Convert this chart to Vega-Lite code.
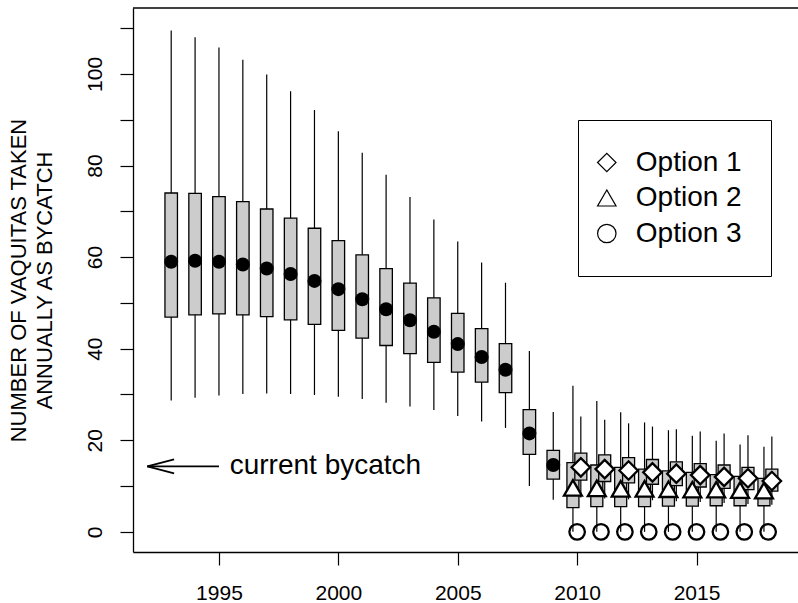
{
  "$schema": "https://vega.github.io/schema/vega-lite/v6.json",
  "width": 665,
  "height": 544,
  "autosize": {"type": "none"},
  "padding": {"left": 133, "top": 8, "right": 0, "bottom": 51},
  "background": "white",
  "config": {
    "view": {"stroke": null},
    "font": "Liberation Sans",
    "axis": {"labelFont": "Liberation Sans", "titleFont": "Liberation Sans", "labelColor": "black", "titleColor": "black", "tickColor": "black", "domainColor": "black", "grid": false, "labelFontSize": 21, "titleFontSize": 22, "titleFontWeight": "normal"},
    "legend": {"strokeColor": "black", "fillColor": "white", "padding": 28.5, "labelFontSize": 28, "labelFont": "Liberation Sans", "labelColor": "black", "symbolSize": 340, "symbolOffset": -13.7, "labelOffset": 15, "rowPadding": 7.5, "symbolStrokeWidth": 1.2}
  },
  "data": {"values": [{"top": 114.4}]},
  "datasets": {
    "stats": [
      {"year": 1993, "grp": "hist", "lo": 28.7, "q1": 46.9, "med": 59.0, "q3": 74.0, "hi": 109.5},
      {"year": 1994, "grp": "hist", "lo": 29.3, "q1": 47.4, "med": 59.2, "q3": 73.9, "hi": 108.0},
      {"year": 1995, "grp": "hist", "lo": 29.8, "q1": 47.6, "med": 59.0, "q3": 73.2, "hi": 105.8},
      {"year": 1996, "grp": "hist", "lo": 30.1, "q1": 47.4, "med": 58.4, "q3": 72.1, "hi": 103.1},
      {"year": 1997, "grp": "hist", "lo": 30.2, "q1": 47.0, "med": 57.5, "q3": 70.5, "hi": 99.9},
      {"year": 1998, "grp": "hist", "lo": 30.1, "q1": 46.3, "med": 56.3, "q3": 68.5, "hi": 96.2},
      {"year": 1999, "grp": "hist", "lo": 29.9, "q1": 45.3, "med": 54.8, "q3": 66.3, "hi": 92.1},
      {"year": 2000, "grp": "hist", "lo": 29.5, "q1": 44.0, "med": 53.0, "q3": 63.6, "hi": 87.5},
      {"year": 2001, "grp": "hist", "lo": 29.0, "q1": 42.3, "med": 50.8, "q3": 60.5, "hi": 82.8},
      {"year": 2002, "grp": "hist", "lo": 28.2, "q1": 40.7, "med": 48.6, "q3": 57.5, "hi": 78.0},
      {"year": 2003, "grp": "hist", "lo": 27.4, "q1": 38.9, "med": 46.2, "q3": 54.3, "hi": 73.1},
      {"year": 2004, "grp": "hist", "lo": 26.6, "q1": 37.0, "med": 43.7, "q3": 51.1, "hi": 68.2},
      {"year": 2005, "grp": "hist", "lo": 25.3, "q1": 34.9, "med": 41.0, "q3": 47.7, "hi": 63.4},
      {"year": 2006, "grp": "hist", "lo": 24.1, "q1": 32.7, "med": 38.2, "q3": 44.4, "hi": 58.8},
      {"year": 2007, "grp": "hist", "lo": 22.7, "q1": 30.4, "med": 35.4, "q3": 41.1, "hi": 54.4},
      {"year": 2008, "grp": "hist", "lo": 10.0, "q1": 16.9, "med": 21.5, "q3": 26.7, "hi": 39.5},
      {"year": 2009, "grp": "hist", "lo": 7.0, "q1": 11.5, "med": 14.6, "q3": 17.8, "hi": 26.2},
      {"year": 2010, "grp": "Option 1", "lo": 7.5, "q1": 11.3, "med": 14.1, "q3": 17.2, "hi": 25.2},
      {"year": 2011, "grp": "Option 1", "lo": 7.3, "q1": 11.0, "med": 13.7, "q3": 16.8, "hi": 24.5},
      {"year": 2012, "grp": "Option 1", "lo": 7.1, "q1": 10.7, "med": 13.4, "q3": 16.2, "hi": 23.7},
      {"year": 2013, "grp": "Option 1", "lo": 6.9, "q1": 10.4, "med": 13.0, "q3": 15.8, "hi": 23.0},
      {"year": 2014, "grp": "Option 1", "lo": 6.7, "q1": 10.1, "med": 12.7, "q3": 15.3, "hi": 22.4},
      {"year": 2015, "grp": "Option 1", "lo": 6.5, "q1": 9.8, "med": 12.4, "q3": 14.9, "hi": 21.9},
      {"year": 2016, "grp": "Option 1", "lo": 6.3, "q1": 9.5, "med": 12.0, "q3": 14.6, "hi": 21.5},
      {"year": 2017, "grp": "Option 1", "lo": 6.1, "q1": 9.2, "med": 11.7, "q3": 14.1, "hi": 21.1},
      {"year": 2018, "grp": "Option 1", "lo": 5.9, "q1": 8.9, "med": 11.1, "q3": 13.7, "hi": 20.8},
      {"year": 2010, "grp": "Option 2", "lo": 0, "q1": 5.3, "med": 9.6, "q3": 15.1, "hi": 31.9},
      {"year": 2011, "grp": "Option 2", "lo": 0, "q1": 5.5, "med": 9.5, "q3": 14.6, "hi": 28.6},
      {"year": 2012, "grp": "Option 2", "lo": 0, "q1": 5.5, "med": 9.4, "q3": 14.1, "hi": 26.1},
      {"year": 2013, "grp": "Option 2", "lo": 0, "q1": 5.5, "med": 9.4, "q3": 13.7, "hi": 23.9},
      {"year": 2014, "grp": "Option 2", "lo": 0, "q1": 5.6, "med": 9.3, "q3": 13.3, "hi": 22.2},
      {"year": 2015, "grp": "Option 2", "lo": 0, "q1": 5.6, "med": 9.2, "q3": 13.0, "hi": 21.0},
      {"year": 2016, "grp": "Option 2", "lo": 0, "q1": 5.7, "med": 9.2, "q3": 12.5, "hi": 19.9},
      {"year": 2017, "grp": "Option 2", "lo": 0, "q1": 5.7, "med": 9.1, "q3": 12.1, "hi": 19.1},
      {"year": 2018, "grp": "Option 2", "lo": 0, "q1": 5.7, "med": 9.0, "q3": 11.7, "hi": 18.6},
      {"year": 2010, "grp": "Option 3", "med": 0},
      {"year": 2011, "grp": "Option 3", "med": 0},
      {"year": 2012, "grp": "Option 3", "med": 0},
      {"year": 2013, "grp": "Option 3", "med": 0},
      {"year": 2014, "grp": "Option 3", "med": 0},
      {"year": 2015, "grp": "Option 3", "med": 0},
      {"year": 2016, "grp": "Option 3", "med": 0},
      {"year": 2017, "grp": "Option 3", "med": 0},
      {"year": 2018, "grp": "Option 3", "med": 0}
    ],
    "arrow": [
      {"x": 1992, "x2": 1995, "y": 14.3, "y2": 14.3},
      {"x": 1992, "x2": 1993.12, "y": 14.3, "y2": 15.85},
      {"x": 1992, "x2": 1993.12, "y": 14.3, "y2": 12.75}
    ],
    "note": [{"x": 1995.45, "y": 14.3, "text": "current bycatch"}]
  },
  "layer": [
    {
      "data": {"name": "stats"},
      "transform": [{"filter": "datum.grp == 'hist'"}],
      "mark": {"type": "rule", "color": "black", "strokeWidth": 1.2},
      "encoding": {
        "x": {"field": "year", "type": "quantitative", "title": null, "scale": {"domain": [1991.4, 2019.25], "zero": false, "nice": false, "padding": 0},
          "axis": {"values": [1995, 2000, 2005, 2010, 2015], "format": "d", "title": null, "tickSize": 13, "labelFontSize": 21, "labelPadding": 17, "labelFlush": false, "labelOverlap": false, "domainWidth": 1.3, "tickWidth": 1.2}},
        "y": {"field": "lo", "type": "quantitative", "title": ["NUMBER OF VAQUITAS TAKEN", "ANNUALLY AS BYCATCH"], "scale": {"domain": [-4.4, 114.4], "zero": false, "nice": false, "padding": 0},
          "axis": {"values": [0, 10, 20, 30, 40, 50, 60, 70, 80, 90, 100, 110], "labelExpr": "datum.value % 20 == 0 ? datum.label : ''", "tickSize": 13, "tickWidth": 1.2, "domainWidth": 1.3, "labelAngle": 270, "labelAlign": "center", "labelBaseline": "alphabetic", "labelPadding": 19, "labelFontSize": 21, "labelOverlap": false,
            "titleFontSize": 22, "titleFontWeight": "normal", "titleAngle": 270, "titleAlign": "center", "titleBaseline": "bottom", "titleX": -103, "titleY": 272, "titleLineHeight": 26}},
        "y2": {"field": "hi"}
      }
    },
    {
      "mark": {"type": "rule", "color": "black", "strokeWidth": 1.3},
      "encoding": {
        "y": {"field": "top", "type": "quantitative", "title": ["NUMBER OF VAQUITAS TAKEN", "ANNUALLY AS BYCATCH"], "scale": {"domain": [-4.4, 114.4], "zero": false, "nice": false, "padding": 0}}
      }
    },
    {
      "data": {"name": "stats"},
      "transform": [{"filter": "datum.grp == 'hist'"}],
      "mark": {"type": "bar", "width": 12.5, "fill": "#cccccc", "stroke": "black", "strokeWidth": 1.3},
      "encoding": {
        "x": {"field": "year", "type": "quantitative", "title": null, "scale": {"domain": [1991.4, 2019.25], "zero": false, "nice": false, "padding": 0}},
        "y": {"field": "q1", "type": "quantitative", "title": ["NUMBER OF VAQUITAS TAKEN", "ANNUALLY AS BYCATCH"], "scale": {"domain": [-4.4, 114.4], "zero": false, "nice": false, "padding": 0}},
        "y2": {"field": "q3"}
      }
    },
    {
      "data": {"name": "stats"},
      "transform": [{"filter": "datum.grp == 'Option 2'"}],
      "mark": {"type": "rule", "color": "black", "strokeWidth": 1.2, "xOffset": -4.2},
      "encoding": {
        "x": {"field": "year", "type": "quantitative", "title": null, "scale": {"domain": [1991.4, 2019.25], "zero": false, "nice": false, "padding": 0}},
        "y": {"field": "lo", "type": "quantitative", "title": ["NUMBER OF VAQUITAS TAKEN", "ANNUALLY AS BYCATCH"], "scale": {"domain": [-4.4, 114.4], "zero": false, "nice": false, "padding": 0}},
        "y2": {"field": "hi"}
      }
    },
    {
      "data": {"name": "stats"},
      "transform": [{"filter": "datum.grp == 'Option 2'"}],
      "mark": {"type": "bar", "width": 12, "fill": "#cccccc", "stroke": "black", "strokeWidth": 1.3, "xOffset": -4.2},
      "encoding": {
        "x": {"field": "year", "type": "quantitative", "title": null, "scale": {"domain": [1991.4, 2019.25], "zero": false, "nice": false, "padding": 0}},
        "y": {"field": "q1", "type": "quantitative", "title": ["NUMBER OF VAQUITAS TAKEN", "ANNUALLY AS BYCATCH"], "scale": {"domain": [-4.4, 114.4], "zero": false, "nice": false, "padding": 0}},
        "y2": {"field": "q3"}
      }
    },
    {
      "data": {"name": "stats"},
      "transform": [{"filter": "datum.grp == 'Option 1'"}],
      "mark": {"type": "rule", "color": "black", "strokeWidth": 1.2, "xOffset": 3.7},
      "encoding": {
        "x": {"field": "year", "type": "quantitative", "title": null, "scale": {"domain": [1991.4, 2019.25], "zero": false, "nice": false, "padding": 0}},
        "y": {"field": "lo", "type": "quantitative", "title": ["NUMBER OF VAQUITAS TAKEN", "ANNUALLY AS BYCATCH"], "scale": {"domain": [-4.4, 114.4], "zero": false, "nice": false, "padding": 0}},
        "y2": {"field": "hi"}
      }
    },
    {
      "data": {"name": "stats"},
      "transform": [{"filter": "datum.grp == 'Option 1'"}],
      "mark": {"type": "bar", "width": 12, "fill": "#cccccc", "stroke": "black", "strokeWidth": 1.3, "xOffset": 3.7},
      "encoding": {
        "x": {"field": "year", "type": "quantitative", "title": null, "scale": {"domain": [1991.4, 2019.25], "zero": false, "nice": false, "padding": 0}},
        "y": {"field": "q1", "type": "quantitative", "title": ["NUMBER OF VAQUITAS TAKEN", "ANNUALLY AS BYCATCH"], "scale": {"domain": [-4.4, 114.4], "zero": false, "nice": false, "padding": 0}},
        "y2": {"field": "q3"}
      }
    },
    {
      "data": {"name": "stats"},
      "transform": [{"filter": "datum.grp == 'hist'"}],
      "mark": {"type": "point", "shape": "circle", "filled": true, "color": "black", "size": 196, "opacity": 1},
      "encoding": {
        "x": {"field": "year", "type": "quantitative", "title": null, "scale": {"domain": [1991.4, 2019.25], "zero": false, "nice": false, "padding": 0}},
        "y": {"field": "med", "type": "quantitative", "title": ["NUMBER OF VAQUITAS TAKEN", "ANNUALLY AS BYCATCH"], "scale": {"domain": [-4.4, 114.4], "zero": false, "nice": false, "padding": 0}}
      }
    },
    {
      "data": {"name": "stats"},
      "transform": [{"filter": "datum.grp == 'Option 2'"}],
      "mark": {"type": "point", "shape": "triangle-up", "filled": true, "color": "white", "size": 320, "opacity": 1, "xOffset": -4.2},
      "encoding": {
        "x": {"field": "year", "type": "quantitative", "title": null, "scale": {"domain": [1991.4, 2019.25], "zero": false, "nice": false, "padding": 0}},
        "y": {"field": "med", "type": "quantitative", "title": ["NUMBER OF VAQUITAS TAKEN", "ANNUALLY AS BYCATCH"], "scale": {"domain": [-4.4, 114.4], "zero": false, "nice": false, "padding": 0}}
      }
    },
    {
      "data": {"name": "stats"},
      "transform": [{"filter": "datum.grp == 'Option 1'"}],
      "mark": {"type": "point", "shape": "diamond", "filled": true, "color": "white", "size": 340, "opacity": 1, "xOffset": 3.7},
      "encoding": {
        "x": {"field": "year", "type": "quantitative", "title": null, "scale": {"domain": [1991.4, 2019.25], "zero": false, "nice": false, "padding": 0}},
        "y": {"field": "med", "type": "quantitative", "title": ["NUMBER OF VAQUITAS TAKEN", "ANNUALLY AS BYCATCH"], "scale": {"domain": [-4.4, 114.4], "zero": false, "nice": false, "padding": 0}}
      }
    },
    {
      "data": {"name": "stats"},
      "transform": [{"filter": "datum.grp == 'Option 3'"}],
      "mark": {"type": "point", "filled": false, "color": "black", "strokeWidth": 2.3, "size": 240, "opacity": 1},
      "encoding": {
        "x": {"field": "year", "type": "quantitative", "title": null, "scale": {"domain": [1991.4, 2019.25], "zero": false, "nice": false, "padding": 0}},
        "y": {"field": "med", "type": "quantitative", "title": ["NUMBER OF VAQUITAS TAKEN", "ANNUALLY AS BYCATCH"], "scale": {"domain": [-4.4, 114.4], "zero": false, "nice": false, "padding": 0}},
        "shape": {"field": "grp", "type": "nominal", "title": null, "scale": {"domain": ["Option 1", "Option 2", "Option 3"], "range": ["diamond", "triangle-up", "circle"]},
          "legend": {"orient": "none", "legendX": 445, "legendY": 112, "title": null, "symbolStrokeWidth": 1.2, "symbolSize": 340}}
      }
    },
    {
      "data": {"name": "stats"},
      "transform": [{"filter": "datum.grp == 'Option 2'"}],
      "mark": {"type": "point", "filled": false, "color": "black", "strokeWidth": 2.3, "size": 320, "opacity": 1, "xOffset": -4.2},
      "encoding": {
        "x": {"field": "year", "type": "quantitative", "title": null, "scale": {"domain": [1991.4, 2019.25], "zero": false, "nice": false, "padding": 0}},
        "y": {"field": "med", "type": "quantitative", "title": ["NUMBER OF VAQUITAS TAKEN", "ANNUALLY AS BYCATCH"], "scale": {"domain": [-4.4, 114.4], "zero": false, "nice": false, "padding": 0}},
        "shape": {"field": "grp", "type": "nominal", "title": null, "scale": {"domain": ["Option 1", "Option 2", "Option 3"], "range": ["diamond", "triangle-up", "circle"]},
          "legend": {"orient": "none", "legendX": 445, "legendY": 112, "title": null, "symbolStrokeWidth": 1.2, "symbolSize": 340}}
      }
    },
    {
      "data": {"name": "stats"},
      "transform": [{"filter": "datum.grp == 'Option 1'"}],
      "mark": {"type": "point", "filled": false, "color": "black", "strokeWidth": 2.3, "size": 340, "opacity": 1, "xOffset": 3.7},
      "encoding": {
        "x": {"field": "year", "type": "quantitative", "title": null, "scale": {"domain": [1991.4, 2019.25], "zero": false, "nice": false, "padding": 0}},
        "y": {"field": "med", "type": "quantitative", "title": ["NUMBER OF VAQUITAS TAKEN", "ANNUALLY AS BYCATCH"], "scale": {"domain": [-4.4, 114.4], "zero": false, "nice": false, "padding": 0}},
        "shape": {"field": "grp", "type": "nominal", "title": null, "scale": {"domain": ["Option 1", "Option 2", "Option 3"], "range": ["diamond", "triangle-up", "circle"]},
          "legend": {"orient": "none", "legendX": 445, "legendY": 112, "title": null, "symbolStrokeWidth": 1.2, "symbolSize": 340}}
      }
    },
    {
      "data": {"name": "arrow"},
      "mark": {"type": "rule", "color": "black", "strokeWidth": 1.8},
      "encoding": {
        "x": {"field": "x", "type": "quantitative", "title": null, "scale": {"domain": [1991.4, 2019.25], "zero": false, "nice": false, "padding": 0}},
        "x2": {"field": "x2"},
        "y": {"field": "y", "type": "quantitative", "title": ["NUMBER OF VAQUITAS TAKEN", "ANNUALLY AS BYCATCH"], "scale": {"domain": [-4.4, 114.4], "zero": false, "nice": false, "padding": 0}},
        "y2": {"field": "y2"}
      }
    },
    {
      "data": {"name": "note"},
      "mark": {"type": "text", "align": "left", "baseline": "middle", "fontSize": 28, "font": "Liberation Sans", "color": "black"},
      "encoding": {
        "x": {"field": "x", "type": "quantitative", "title": null, "scale": {"domain": [1991.4, 2019.25], "zero": false, "nice": false, "padding": 0}},
        "y": {"field": "y", "type": "quantitative", "title": ["NUMBER OF VAQUITAS TAKEN", "ANNUALLY AS BYCATCH"], "scale": {"domain": [-4.4, 114.4], "zero": false, "nice": false, "padding": 0}},
        "text": {"field": "text"}
      }
    }
  ]
}
